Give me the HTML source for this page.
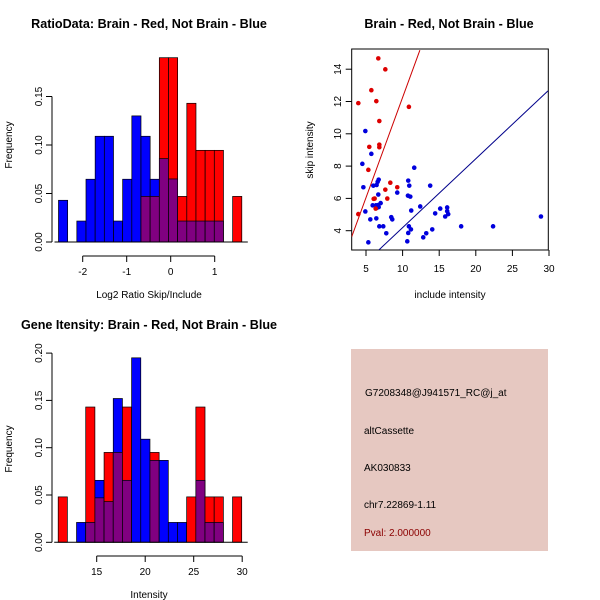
<!DOCTYPE html>
<html><head><meta charset="utf-8"><style>
body{margin:0;background:#fff}
svg{display:block;font-family:"Liberation Sans",sans-serif}
</style></head><body>
<svg id="s" width="600" height="600" viewBox="0 0 600 600">
<rect width="600" height="600" fill="#fff"/>
<text x="149" y="28" text-anchor="middle" font-size="12.6" font-weight="bold">RatioData: Brain - Red, Not Brain - Blue</text>
<text x="449" y="28" text-anchor="middle" font-size="12.6" font-weight="bold">Brain - Red, Not Brain - Blue</text>
<text x="149" y="329" text-anchor="middle" font-size="12.6" font-weight="bold">Gene Itensity: Brain - Red, Not Brain - Blue</text>
<text x="149" y="298" text-anchor="middle" font-size="10">Log2 Ratio Skip/Include</text>
<text x="450" y="298" text-anchor="middle" font-size="10">include intensity</text>
<text x="149" y="598" text-anchor="middle" font-size="10">Intensity</text>
<text transform="translate(12,145) rotate(-90)" text-anchor="middle" font-size="10">Frequency</text>
<text transform="translate(313,150) rotate(-90)" text-anchor="middle" font-size="10">skip intensity</text>
<text transform="translate(12,449) rotate(-90)" text-anchor="middle" font-size="10">Frequency</text>
<rect x="351" y="349" width="197" height="202" fill="#e6c8c1"/>
<g font-size="10">
<text x="365" y="396" fill="#000">G7208348@J941571_RC@j_at</text>
<text x="364" y="434" fill="#000">altCassette</text>
<text x="364" y="471" fill="#000">AK030833</text>
<text x="364" y="508" fill="#000">chr7.22869-1.11</text>
<text x="364" y="536" fill="#8b0000">Pval: 2.000000</text>
</g>
<g id="g"></g>
</svg>
<script>
// ratio histogram
const ratioBlue=[0.043,0,0.0216,0.0647,0.109,0.109,0.0216,0.0647,0.130,0.109,0.0647,0.086,0.065,0.0216,0.0216,0.0216,0.0216,0.0216,0,0];
const ratioRed=[0,0,0,0,0,0,0,0,0,0.047,0.047,0.19,0.19,0.047,0.143,0.0945,0.0945,0.0945,0,0.047];
const ratioXTicks=[-2,-1,0,1];
const ratioYTicks=[0,0.05,0.10,0.15];
// intensity histogram
const intBlue=[0,0,0.021,0.021,0.0655,0.043,0.152,0.0655,0.195,0.109,0.0866,0.0866,0.021,0.021,0,0.0655,0.021,0.021,0,0];
const intRed=[0.048,0,0,0.143,0.047,0.095,0.095,0.143,0,0,0.095,0,0,0,0.048,0.143,0.048,0.048,0,0.048];
const intXTicks=[15,20,25,30];
const intYTicks=[0,0.05,0.10,0.15,0.20];
// scatter
const redX=[6.68,7.64,5.73,3.95,6.41,10.86,6.82,5.45,6.82,6.82,5.32,8.32,9.27,7.64,6.05,6.18,7.91,6.32,3.95];
const redY=[14.67,13.99,12.70,11.90,12.02,11.67,10.79,9.19,9.33,9.17,7.77,6.97,6.69,6.54,5.97,5.99,5.99,5.37,5.03];
const blueX=[4.91,5.73,4.5,4.64,6.0,6.45,6.59,6.73,6.68,5.91,6.36,6.68,7.0,6.5,6.73,4.91,5.59,6.41,6.82,7.36,7.77,5.32,8.45,8.59,9.27,10.77,10.91,10.73,11.05,11.59,11.18,10.86,11.14,10.77,10.64,12.41,12.82,13.23,14.05,13.77,14.45,15.14,15.82,16.09,16.09,16.23,18.0,22.36,28.9];
const blueY=[10.17,8.76,8.14,6.69,6.79,6.83,7.02,7.16,6.24,5.57,5.57,5.59,5.71,5.42,5.46,5.19,4.70,4.76,4.27,4.27,3.84,3.28,4.84,4.70,6.36,7.10,6.79,6.17,6.11,7.90,5.25,4.27,4.08,3.86,3.34,5.5,3.59,3.84,4.08,6.79,5.07,5.37,4.88,5.44,5.21,5.03,4.27,4.27,4.88];
const scXTicks=[5,10,15,20,25,30];
const scYTicks=[4,6,8,10,12,14];
const redLine=[3.05,3.63,12.36,15.18];
const blueLine=[6.77,2.81,29.86,12.66];

const NS="http://www.w3.org/2000/svg";
const G=document.getElementById('g');
function mk(t,a,p){const e=document.createElementNS(NS,t);for(const k in a)e.setAttribute(k,a[k]);(p||G).appendChild(e);return e;}

function hist(blue,red,start,bw,xs,ys,x0,xu,y0,yu,xt,yt,pre){
  for(let i=0;i<blue.length;i++){
    const l=xs(start+i*bw), w=xs(start+(i+1)*bw)-l;
    const b=blue[i], r=red[i], mn=Math.min(b,r), mx=Math.max(b,r);
    if(mx>0){
      const e=mk('rect',{x:l,y:ys(mx),width:w,height:ys(0)-ys(mx),fill:b>=r?'#0000ff':'#ff0000',stroke:'#000','stroke-width':0.7});
      
      
    }
    if(mn>0){
      const e=mk('rect',{x:l,y:ys(mn),width:w,height:ys(0)-ys(mn),fill:'#800080',stroke:'#000','stroke-width':0.7});
      
      
    }
  }
  const ax=mk('path',{d:`M${xs(xt[0])},${xu}H${xs(xt[xt.length-1])}`,stroke:'#000',fill:'none'});
  
  xt.forEach(v=>{mk('line',{x1:xs(v),x2:xs(v),y1:xu,y2:xu+6,stroke:'#000'});
    const t=mk('text',{x:xs(v),y:xu+19,'text-anchor':'middle','font-size':10});t.textContent=v;
    });
  const ay=mk('path',{d:`M${yu},${ys(yt[0])}V${ys(yt[yt.length-1])}`,stroke:'#000',fill:'none'});
  
  yt.forEach(v=>{mk('line',{x1:yu-6,x2:yu,y1:ys(v),y2:ys(v),stroke:'#000'});
    const t=mk('text',{transform:`translate(${yu-10},${ys(v)}) rotate(-90)`,'text-anchor':'middle','font-size':10});t.textContent=v.toFixed(2);
    });
  const base=mk('line',{x1:xs(start)-4,x2:xs(start+blue.length*bw)+6,y1:ys(0),y2:ys(0),stroke:'#000'});
  
}
hist(ratioBlue,ratioRed,-2.55,0.2083,v=>170.7+(v)*44,v=>242-v/0.05*48.5,0,256,0,52,ratioXTicks,ratioYTicks,'ratio');
hist(intBlue,intRed,11.03,0.946,v=>96.7+(v-15)*9.7,v=>542.3-v/0.05*47.3,0,556,0,52,intXTicks,intYTicks,'intensity');

const sx=v=>366+(v-5)*7.32, sy=v=>230.7-(v-4)*16.15;
const box=mk('rect',{x:351.7,y:49,width:196.6,height:201,fill:'none',stroke:'#000'});

mk('clipPath',{id:'cp'});mk('rect',{x:351.7,y:49,width:196.6,height:201},document.getElementById('cp'));
scXTicks.forEach(v=>{mk('line',{x1:sx(v),x2:sx(v),y1:250,y2:256,stroke:'#000'});
  const t=mk('text',{x:sx(v),y:272,'text-anchor':'middle','font-size':10});t.textContent=v;
  });
scYTicks.forEach(v=>{mk('line',{x1:345.7,x2:351.7,y1:sy(v),y2:sy(v),stroke:'#000'});
  const t=mk('text',{transform:`translate(341,${sy(v)}) rotate(-90)`,'text-anchor':'middle','font-size':10});t.textContent=v;
  });
const gl=mk('g',{'clip-path':'url(#cp)'});
const rl=mk('line',{x1:sx(redLine[0]),y1:sy(redLine[1]),x2:sx(redLine[2]),y2:sy(redLine[3]),stroke:'#cc0000'},gl);

const bl=mk('line',{x1:sx(blueLine[0]),y1:sy(blueLine[1]),x2:sx(blueLine[2]),y2:sy(blueLine[3]),stroke:'#00008b'},gl);

blueX.forEach((x,i)=>{const c=mk('circle',{cx:sx(x),cy:sy(blueY[i]),r:2.3,fill:'#0000dd'},gl);
  });
redX.forEach((x,i)=>{const c=mk('circle',{cx:sx(x),cy:sy(redY[i]),r:2.3,fill:'#dd0000'},gl);
  });
</script>
</body></html>
